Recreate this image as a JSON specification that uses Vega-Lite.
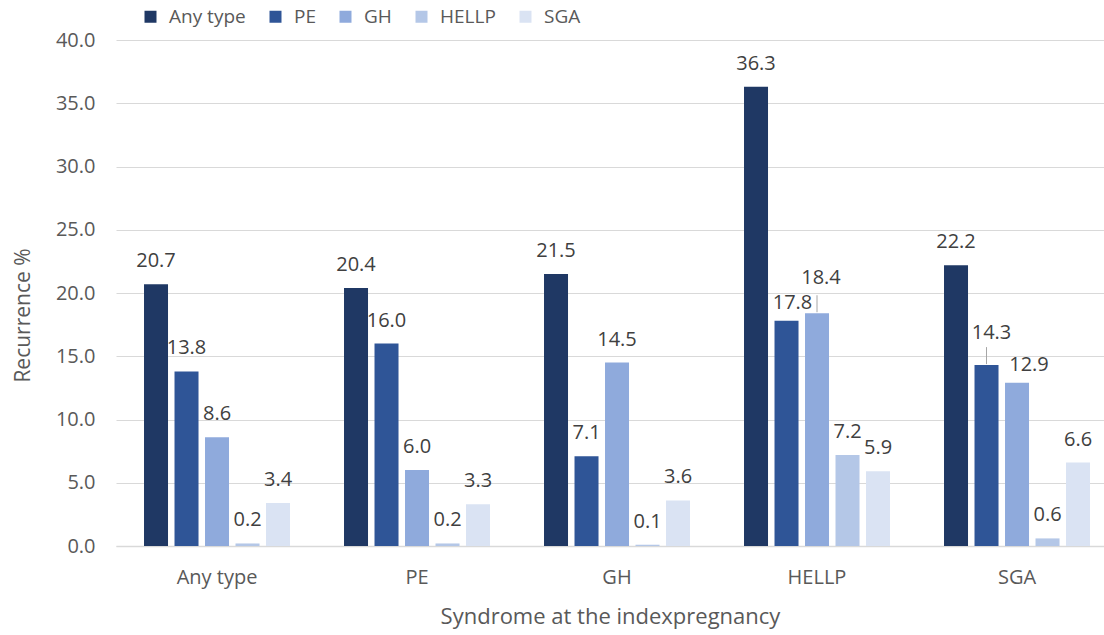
{
  "$schema": "https://vega.github.io/schema/vega-lite/v6.json",
  "width": 988,
  "height": 506,
  "autosize": {"type": "none"},
  "padding": {"left": 116, "top": 40, "right": 0, "bottom": 89},
  "background": "white",
  "config": {"view": {"stroke": null}, "font": "Open Sans"},
  "data": {
    "values": [
      {"index": "Any type", "type": "Any type", "value": 20.7},
      {"index": "Any type", "type": "PE", "value": 13.8},
      {"index": "Any type", "type": "GH", "value": 8.6},
      {"index": "Any type", "type": "HELLP", "value": 0.2},
      {"index": "Any type", "type": "SGA", "value": 3.4},
      {"index": "PE", "type": "Any type", "value": 20.4},
      {"index": "PE", "type": "PE", "value": 16.0},
      {"index": "PE", "type": "GH", "value": 6.0},
      {"index": "PE", "type": "HELLP", "value": 0.2},
      {"index": "PE", "type": "SGA", "value": 3.3},
      {"index": "GH", "type": "Any type", "value": 21.5},
      {"index": "GH", "type": "PE", "value": 7.1},
      {"index": "GH", "type": "GH", "value": 14.5},
      {"index": "GH", "type": "HELLP", "value": 0.1},
      {"index": "GH", "type": "SGA", "value": 3.6},
      {"index": "HELLP", "type": "Any type", "value": 36.3},
      {"index": "HELLP", "type": "PE", "value": 17.8},
      {"index": "HELLP", "type": "GH", "value": 18.4},
      {"index": "HELLP", "type": "HELLP", "value": 7.2},
      {"index": "HELLP", "type": "SGA", "value": 5.9},
      {"index": "SGA", "type": "Any type", "value": 22.2},
      {"index": "SGA", "type": "PE", "value": 14.3},
      {"index": "SGA", "type": "GH", "value": 12.9},
      {"index": "SGA", "type": "HELLP", "value": 0.6},
      {"index": "SGA", "type": "SGA", "value": 6.6}
    ]
  },
  "encoding": {
    "x": {
      "field": "index",
      "type": "nominal",
      "sort": ["Any type", "PE", "GH", "HELLP", "SGA"],
      "scale": {"paddingInner": 0.27, "paddingOuter": 0.105, "align": 0.667},
      "axis": {
        "title": "Syndrome at the indexpregnancy",
        "labelAngle": 0,
        "labelFontSize": 20,
        "labelColor": "#595959",
        "labelPadding": 21,
        "ticks": false,
        "domainColor": "#d9d9d9",
        "domainWidth": 1.5,
        "titleFontSize": 22,
        "titleFontWeight": "normal",
        "titleColor": "#595959",
        "titlePadding": 19
      }
    },
    "xOffset": {
      "field": "type",
      "sort": ["Any type", "PE", "GH", "HELLP", "SGA"],
      "scale": {"paddingInner": 0.213, "paddingOuter": 0}
    },
    "y": {
      "field": "value",
      "type": "quantitative",
      "scale": {"domain": [0, 40]},
      "axis": {
        "title": "Recurrence %",
        "values": [0, 5, 10, 15, 20, 25, 30, 35, 40],
        "format": ".1f",
        "labelFontSize": 20,
        "labelColor": "#595959",
        "labelPadding": 21,
        "ticks": false,
        "domain": false,
        "gridColor": "#d9d9d9",
        "gridWidth": 1.2,
        "titleFontSize": 21,
        "titleFontWeight": "normal",
        "titleColor": "#595959",
        "titlePadding": 22,
        "titleY": 275
      }
    }
  },
  "layer": [
    {
      "mark": {"type": "bar"},
      "encoding": {
        "color": {
          "field": "type",
          "type": "nominal",
          "sort": ["Any type", "PE", "GH", "HELLP", "SGA"],
          "scale": {
            "domain": ["Any type", "PE", "GH", "HELLP", "SGA"],
            "range": ["#1f3864", "#2f5597", "#8faadc", "#b4c7e7", "#dae3f3"]
          },
          "legend": {
            "title": null,
            "orient": "none",
            "direction": "horizontal",
            "legendX": 25,
            "legendY": -33,
            "symbolType": "square",
            "symbolSize": 144,
            "symbolStrokeWidth": 0,
            "labelFontSize": 19,
            "labelColor": "#595959",
            "labelOffset": 9,
            "columnPadding": 20
          }
        }
      }
    },
    {
      "transform": [{"filter": "!(datum.index == 'HELLP' && (datum.type == 'GH' || datum.type == 'PE')) && !(datum.index == 'SGA' && (datum.type == 'PE' || datum.type == 'GH'))"}],
      "mark": {"type": "text", "baseline": "middle", "dy": -23, "fontSize": 20, "color": "#404040"},
      "encoding": {"text": {"field": "value", "type": "quantitative", "format": ".1f"}}
    },
    {
      "transform": [{"filter": "(datum.index == 'HELLP' && datum.type == 'PE')"}],
      "mark": {"type": "text", "baseline": "middle", "dy": -18, "dx": 6, "fontSize": 20, "color": "#404040"},
      "encoding": {"text": {"field": "value", "type": "quantitative", "format": ".1f"}}
    },
    {
      "transform": [{"filter": "(datum.index == 'SGA' && datum.type == 'GH')"}],
      "mark": {"type": "text", "baseline": "middle", "dy": -18, "dx": 12, "fontSize": 20, "color": "#404040"},
      "encoding": {"text": {"field": "value", "type": "quantitative", "format": ".1f"}}
    },
    {
      "transform": [{"filter": "(datum.index == 'HELLP' && datum.type == 'GH')"}],
      "mark": {"type": "text", "baseline": "middle", "dy": -35, "dx": 4, "fontSize": 20, "color": "#404040"},
      "encoding": {"text": {"field": "value", "type": "quantitative", "format": ".1f"}}
    },
    {
      "transform": [{"filter": "(datum.index == 'SGA' && datum.type == 'PE')"}],
      "mark": {"type": "text", "baseline": "middle", "dy": -32, "dx": 5, "fontSize": 20, "color": "#404040"},
      "encoding": {"text": {"field": "value", "type": "quantitative", "format": ".1f"}}
    },
    {
      "transform": [{"filter": "(datum.index == 'HELLP' && datum.type == 'GH') || (datum.index == 'SGA' && datum.type == 'PE')"}],
      "mark": {"type": "rule", "color": "#a6a6a6", "strokeWidth": 1, "yOffset": -1, "y2Offset": -18},
      "encoding": {"y2": {"field": "value"}}
    }
  ]
}
